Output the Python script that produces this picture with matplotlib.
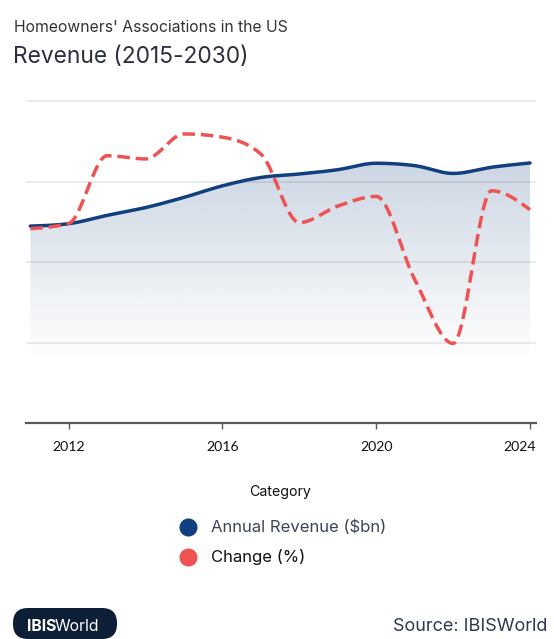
import numpy as np
import matplotlib
matplotlib.use("Agg")
import matplotlib.pyplot as plt
from matplotlib.patches import FancyBboxPatch
from matplotlib.lines import Line2D
from matplotlib.transforms import ScaledTranslation

# ---------------- data ----------------
years = [2011, 2012, 2013, 2014, 2015, 2016, 2017, 2018, 2019, 2020, 2021, 2022, 2023, 2024]
revenue = [73.4, 74.3, 77.4, 80.3, 84.1, 88.4, 91.5, 92.8, 94.4, 96.8, 95.9, 93.0, 95.3, 96.9]
change = [0.83, 0.96, 2.64, 2.56, 3.18, 3.10, 2.68, 0.98, 1.39, 1.63, -0.43, -2.02, 1.77, 1.30]
tick_years = [2012, 2016, 2020, 2024]
tick_labels = ["2012", "2016", "2020", "2024"]
subtitle = "Homeowners' Associations in the US"
title = "Revenue (2015-2030)"
legend_labels = ["Annual Revenue ($bn)", "Change (%)"]

BLUE = "#113f7f"
RED = "#ef5252"
FONT = ["Inter", "DejaVu Sans"]
plt.rcParams["font.family"] = FONT

W, H = 554, 639
DPI = 100


def monotone(x, y, n=40):
    x = np.asarray(x, float)
    y = np.asarray(y, float)
    h = np.diff(x)
    s = np.diff(y) / h
    m = np.zeros_like(y)
    for i in range(1, len(y) - 1):
        p = (s[i - 1] * h[i] + s[i] * h[i - 1]) / (h[i - 1] + h[i])
        m[i] = (np.sign(s[i - 1]) + np.sign(s[i])) * min(abs(s[i - 1]), abs(s[i]), 0.5 * abs(p))
    m[0] = (3 * s[0] - m[1]) / 2
    m[-1] = (3 * s[-1] - m[-2]) / 2
    xs, ys = [], []
    for i in range(len(x) - 1):
        t = np.linspace(0, 1, n, endpoint=(i == len(x) - 2))
        h00 = 2 * t**3 - 3 * t**2 + 1
        h10 = t**3 - 2 * t**2 + t
        h01 = -2 * t**3 + 3 * t**2
        h11 = t**3 - t**2
        xs.append(x[i] + t * h[i])
        ys.append(h00 * y[i] + h10 * h[i] * m[i] + h01 * y[i + 1] + h11 * h[i] * m[i + 1])
    return np.concatenate(xs), np.concatenate(ys)


fig = plt.figure(figsize=(W / DPI, H / DPI), dpi=DPI)
fig.patch.set_facecolor("white")

# axes in pixel geometry
ax_l, ax_r, ax_t, ax_b = 26, 535.7, 95, 423.3
ax = fig.add_axes([ax_l / W, 1 - ax_b / H, (ax_r - ax_l) / W, (ax_b - ax_t) / H])
px_per_grid = 80.6
ytop_rev = 30 * (ax_b - ax_t) / px_per_grid
ytop_chg = -4 + 2 * (ax_b - ax_t) / px_per_grid
px_per_year = (530 - 68.7) / 12
x0 = 2011 - (30.3 - ax_l) / px_per_year
x1 = 2024 + (ax_r - 530) / px_per_year
ax.set_xlim(x0, x1)
ax.set_ylim(0, ytop_rev)

xs, ys = monotone(years, revenue)
# gradient fill under revenue
fb = ax.fill_between(xs, ys, 0, color="none", lw=0)
vtop = max(revenue)
vbot = 24.0
grad_v = np.linspace(vtop, 0, 300)
alpha = np.clip((grad_v - vbot) / (vtop - vbot), 0, 1)
img = np.zeros((300, 1, 4))
img[..., 0] = 0.80
img[..., 1] = 0.84
img[..., 2] = 0.893
img[..., 3] = alpha[:, None]
im = ax.imshow(img, extent=[years[0], years[-1], 0, vtop], aspect="auto",
               origin="upper", zorder=1, interpolation="bilinear")
im.set_clip_path(fb.get_paths()[0], transform=ax.transData)
ax.set_xlim(x0, x1)
ax.set_ylim(0, ytop_rev)

ax.plot(xs, ys, color=BLUE, lw=2.5, zorder=3, solid_capstyle="round")

ax.set_yticks([0, 30, 60, 90, 120])
ax.yaxis.grid(True, color="black", alpha=0.1, lw=1.1, zorder=2)
ax.set_axisbelow(False)
ax.tick_params(axis="y", length=0, labelleft=False)
for sp in ["left", "right", "top"]:
    ax.spines[sp].set_visible(False)
ax.spines["bottom"].set_color("#5a5a5a")
ax.spines["bottom"].set_linewidth(1.6)
ax.spines["bottom"].set_zorder(5)

ax.set_xticks(tick_years)
ax.set_xticklabels(tick_labels, fontsize=10.2, color="#111111", family=["Lato", "DejaVu Sans"])
ax.tick_params(axis="x", length=4, width=1, color="#5a5a5a", pad=9)
last = ax.get_xticklabels()[-1]
last.set_horizontalalignment("right")
last.set_transform(last.get_transform() + ScaledTranslation(5.7 / DPI, 0, fig.dpi_scale_trans))

ax2 = ax.twinx()
ax2.set_ylim(-4, ytop_chg)
ax2.set_xlim(x0, x1)
cx, cy = monotone(years, change)
ax2.plot(cx, cy, color=RED, lw=2.5, ls=(0, (3.6, 1.7)), zorder=4)
ax2.axis("off")

# overlay axes in pixel coordinates for text
ov = fig.add_axes([0, 0, 1, 1], zorder=10)
ov.set_xlim(0, W)
ov.set_ylim(H, 0)
ov.axis("off")
ov.patch.set_alpha(0)

ov.text(14, 32.3, subtitle, fontsize=11.3, color="#333333", va="baseline", ha="left")
ov.text(13, 63.3, title, fontsize=16.4, color="#2b3040", va="baseline", ha="left")

ov.text(280.5, 495.7, "Category", fontsize=10.2, color="#111111", va="baseline", ha="center")

ov.add_line(Line2D([188], [526.7], marker="o", markersize=12, color=BLUE, lw=0))
ov.add_line(Line2D([188], [556.7], marker="o", markersize=12, color=RED, lw=0))
ov.text(211, 531.7, legend_labels[0], fontsize=12.0, color="#3d4557", va="baseline", ha="left")
ov.text(211, 561.7, legend_labels[1], fontsize=12.0, color="#111111", va="baseline", ha="left")

# logo
logo = FancyBboxPatch((13, 608), 104, 31, boxstyle="round,pad=0,rounding_size=15",
                      fc="#0d1f36", ec="none")
ov.add_patch(logo)
t1 = ov.text(27, 630.7, "IBIS", fontsize=11.4, color="white", fontweight="bold",
             va="baseline", ha="left")
fig.canvas.draw()
bb = t1.get_window_extent()
x_world = bb.x1  # display px == figure px
ov.text(x_world - 2.0, 630.7, "World", fontsize=11.4, color="white", va="baseline", ha="left")

ov.text(547.3, 631, "Source: IBISWorld", fontsize=13.0, color="#2d3a4f", va="baseline", ha="right")

fig.savefig("out.png", dpi=DPI, facecolor="white")
